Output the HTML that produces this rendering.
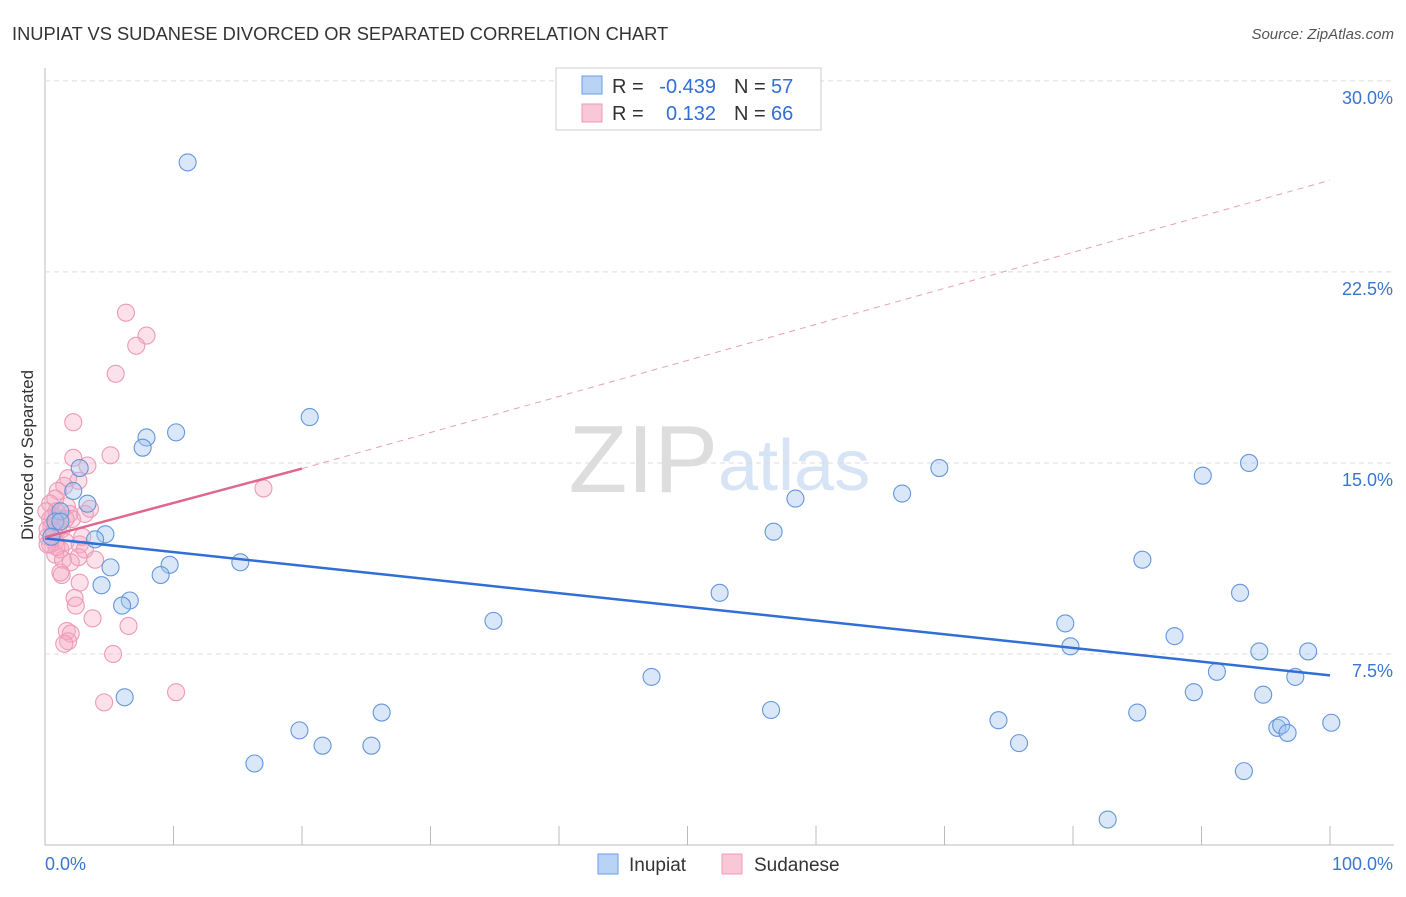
<!DOCTYPE html>
<html><head><meta charset="utf-8"><style>
body{margin:0;background:#fff;font-family:"Liberation Sans",sans-serif}
svg text{font-family:"Liberation Sans",sans-serif}
</style></head><body>
<svg id="c" width="1406" height="892">
<text x="12" y="40" font-size="18.3" fill="#333">INUPIAT VS SUDANESE DIVORCED OR SEPARATED CORRELATION CHART</text>
<text x="1394" y="39" font-size="15" fill="#555" text-anchor="end" font-style="italic">Source: ZipAtlas.com</text>
<text x="33" y="455" font-size="17" fill="#333" text-anchor="middle" transform="rotate(-90 33 455)">Divorced or Separated</text>
<text x="718" y="492" font-size="96" fill="#ddd" text-anchor="end" font-family="Liberation Serif">ZIP</text>
<text x="718" y="490" font-size="72" fill="#d6e4f6">atlas</text>
<g id="grid"></g><g id="marks"></g>
<g>
<rect x="556" y="68" width="265" height="62" fill="#fff" stroke="#ccc"/>
<rect x="582" y="76" width="20" height="18" fill="#b8d3f5" stroke="#6a9ee0"/>
<rect x="582" y="104" width="20" height="18" fill="#f9c8d7" stroke="#ec9ab5"/>
<text x="612" y="93" font-size="20" fill="#333">R =</text>
<text x="716" y="93" font-size="20" fill="#2f6fd6" text-anchor="end">-0.439</text>
<text x="734" y="93" font-size="20" fill="#333">N =</text>
<text x="771" y="93" font-size="20" fill="#2f6fd6">57</text>
<text x="612" y="120" font-size="20" fill="#333">R =</text>
<text x="716" y="120" font-size="20" fill="#2f6fd6" text-anchor="end">0.132</text>
<text x="734" y="120" font-size="20" fill="#333">N =</text>
<text x="771" y="120" font-size="20" fill="#2f6fd6">66</text>
</g>
<g>
<rect x="598" y="854" width="20" height="20" fill="#b8d3f5" stroke="#6a9ee0"/>
<text x="629" y="871" font-size="19" fill="#333">Inupiat</text>
<rect x="722" y="854" width="20" height="20" fill="#f9c8d7" stroke="#ec9ab5"/>
<text x="754" y="871" font-size="19" fill="#333">Sudanese</text>
</g>
</svg>
<script>
const yTicks=[7.5,15,22.5,30];
const yTickLabels=["7.5%","15.0%","22.5%","30.0%"];
const inupiatX=[11.1,20.6,10.2,7.9,7.6,2.7,2.2,3.3,4.7,3.9,1.2,0.8,0.5,5.1,9.7,9.0,15.2,4.4,6.6,6.0,6.2,19.8,21.6,25.4,26.2,16.3,34.9,47.2,52.5,56.5,56.7,58.4,66.7,69.6,74.2,75.8,79.4,79.8,82.7,85.0,85.4,87.9,89.4,90.1,91.2,93.0,93.3,93.7,94.5,94.8,95.9,96.2,96.7,97.3,98.3,100.1,1.2];
const inupiatY=[26.8,16.8,16.2,16.0,15.6,14.8,13.9,13.4,12.2,12.0,13.1,12.7,12.1,10.9,11.0,10.6,11.1,10.2,9.6,9.4,5.8,4.5,3.9,3.9,5.2,3.2,8.8,6.6,9.9,5.3,12.3,13.6,13.8,14.8,4.9,4.0,8.7,7.8,1.0,5.2,11.2,8.2,6.0,14.5,6.8,9.9,2.9,15.0,7.6,5.9,4.6,4.7,4.4,6.6,7.6,4.8,12.7];
const sudaneseX=[6.3,7.9,7.1,5.5,2.2,5.1,2.2,3.3,1.8,2.6,1.5,1.0,17.0,0.8,0.4,1.7,3.5,3.1,0.6,1.2,1.9,0.5,1.0,1.3,0.2,0.8,1.6,2.7,3.1,1.2,0.8,1.4,3.9,2.6,2.7,1.3,2.3,2.4,3.7,6.5,1.7,2.0,1.8,1.5,5.3,10.2,4.6,0.4,0.9,2.1,1.6,0.2,2.9,0.9,2.0,1.2,0.4,0.7,0.1,0.2];
const sudaneseY=[20.9,20.0,19.6,18.5,16.6,15.3,15.2,14.9,14.4,14.3,14.1,13.9,14.0,13.6,13.4,13.3,13.2,13.0,12.9,12.8,13.0,12.5,12.4,12.4,12.1,11.9,11.9,11.8,11.6,11.6,11.4,11.2,11.2,11.3,10.3,10.6,9.7,9.4,8.9,8.6,8.4,8.3,8.0,7.9,7.5,6.0,5.6,11.8,13.1,12.8,12.8,12.4,12.1,11.7,11.1,10.7,12.8,12.3,13.1,11.8];
const X=v=>45+v/100*1285, Y=v=>845-v*25.47;
const NS="http://www.w3.org/2000/svg";
function mk(t,a,p){const e=document.createElementNS(NS,t);for(const k in a)e.setAttribute(k,a[k]);p.appendChild(e);return e;}
const g=document.getElementById('grid'),m=document.getElementById('marks');
mk('line',{x1:45,y1:68,x2:45,y2:845,stroke:'#bbb'},g);
mk('line',{x1:45,y1:845,x2:1394,y2:845,stroke:'#bbb'},g);
yTicks.forEach((t,i)=>{
 const l=mk('line',{x1:45,y1:Y(t),x2:1394,y2:Y(t),stroke:'#ddd','stroke-dasharray':'5,4'},g);
 
 
 const tx=mk('text',{x:1393,y:Y(t)+23,'font-size':18,fill:'#3a75d0','text-anchor':'end'},g);tx.textContent=yTickLabels[i];
 
 
});
for(let i=1;i<=10;i++){const l=mk('line',{x1:X(i*10),y1:826,x2:X(i*10),y2:845,stroke:'#bbb'},g);
 
 }
const xl=mk('text',{x:45,y:870,'font-size':18,fill:'#3a75d0'},g);xl.textContent='0.0%';


const xr=mk('text',{x:1393,y:870,'font-size':18,fill:'#3a75d0','text-anchor':'end'},g);xr.textContent='100.0%';


sudaneseX.forEach((v,i)=>{const c=mk('circle',{cx:X(v),cy:Y(sudaneseY[i]),r:8.5,fill:'rgba(246,170,196,0.35)',stroke:'#ee9ab6','stroke-width':1.1},m);
 
 });
inupiatX.forEach((v,i)=>{const c=mk('circle',{cx:X(v),cy:Y(inupiatY[i]),r:8.5,fill:'rgba(160,196,240,0.4)',stroke:'#6496dc','stroke-width':1.1},m);
 
 });
const bt=mk('line',{x1:X(0),y1:Y(12.04),x2:X(100),y2:Y(6.66),stroke:'#2f6fd6','stroke-width':2.5},m);


const pt=mk('line',{x1:X(0),y1:Y(12.08),x2:X(20),y2:Y(14.78),stroke:'#e06590','stroke-width':2.5},m);


const pd=mk('line',{x1:X(20),y1:Y(14.78),x2:X(100),y2:Y(26.1),stroke:'#e8a0b8','stroke-width':1,'stroke-dasharray':'6,5'},m);


</script>
</body></html>
